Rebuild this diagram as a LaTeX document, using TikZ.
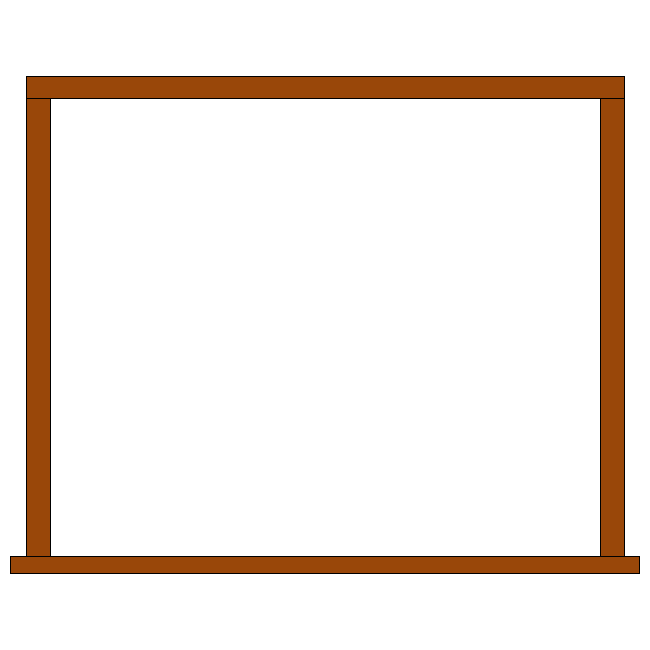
\documentclass[tikz,border=0pt]{standalone}
\definecolor{wood}{HTML}{994709}
\tikzset{beam/.style={fill=wood,draw=black,line width=0.8pt}}
\begin{document}
\begin{tikzpicture}[x=1pt,y=-1pt]
\useasboundingbox (0,0) rectangle (650,650);
\fill[white] (0,0) rectangle (650,650);
\draw[beam] (26,98) rectangle (50,556);
\draw[beam] (600,98) rectangle (624,556);
\draw[beam] (26,76) rectangle (624,98);
\draw[beam] (10,556) rectangle (639,573);
\end{tikzpicture}
\end{document}
